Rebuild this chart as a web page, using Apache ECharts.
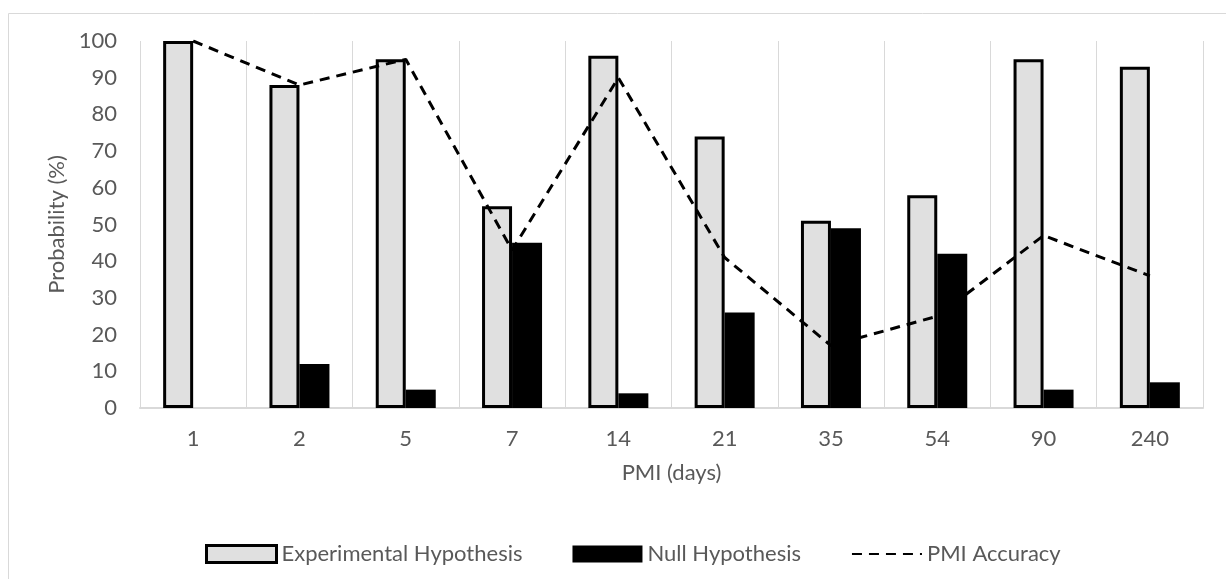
<!DOCTYPE html>
<html>
<head>
<meta charset="utf-8">
<script src="https://cdn.jsdelivr.net/npm/echarts@6/dist/echarts.min.js"></script>
<style>
  html, body { margin: 0; padding: 0; background: #fff; }
  #chart { width: 1226px; height: 579px; }
</style>
</head>
<body>
<div id="chart"></div>
<script>
// PMI categories (days)
const pmiDays = ['1', '2', '5', '7', '14', '21', '35', '54', '90', '240'];
// probabilities (%)
const experimental = [100, 88, 95, 55, 96, 74, 51, 58, 95, 93];
const nullHyp = [0, 12, 5, 45, 4, 26, 49, 42, 5, 7];
const pmiAccuracy = [100, 88, 95, 43, 90, 41, 17, 25, 47, 36];
const yTicks = { min: 0, max: 100, interval: 10 };

const textColor = '#595959';
const fontFamily = 'Lato, "Open Sans", sans-serif';
const fontSize = 22;

const chart = echarts.init(document.getElementById('chart'));
const option = {
    animation: false,
    textStyle: { fontFamily: fontFamily },
    graphic: [{
        type: 'rect',
        left: 6, top: 11,
        shape: { width: 1240, height: 600 },
        style: { fill: 'none', stroke: '#d9d9d9', lineWidth: 1 },
        silent: true
    }],
    grid: { left: 140, right: 23, top: 41, bottom: 171 },
    legend: {
        left: 200,
        top: 538,
        itemWidth: 70,
        itemHeight: 17,
        itemGap: 50,
        textStyle: { color: textColor, fontSize: fontSize, fontFamily: fontFamily },
        data: [
            { name: 'Experimental Hypothesis', icon: 'rect', itemStyle: { borderWidth: 3, borderColor: '#000' } },
            { name: 'Null Hypothesis', icon: 'rect' },
            { name: 'PMI Accuracy', itemStyle: { opacity: 0 } }
        ]
    },
    xAxis: {
        type: 'category',
        data: pmiDays,
        name: 'PMI (days)',
        nameLocation: 'middle',
        nameGap: 54,
        nameTextStyle: { color: textColor, fontSize: fontSize },
        axisLine: { lineStyle: { color: '#d9d9d9', width: 2 } },
        axisTick: { show: false },
        axisLabel: { color: textColor, fontSize: fontSize, margin: 20 },
        splitLine: { show: true, lineStyle: { color: '#d9d9d9', width: 1 } }
    },
    yAxis: {
        type: 'value',
        min: yTicks.min,
        max: yTicks.max,
        interval: yTicks.interval,
        name: 'Probability (%)',
        nameLocation: 'middle',
        nameGap: 70,
        nameTextStyle: { color: textColor, fontSize: fontSize },
        axisLine: { show: false },
        axisTick: { show: false },
        axisLabel: { color: textColor, fontSize: fontSize, margin: 23 },
        splitLine: { show: false }
    },
    series: [
        {
            name: 'Experimental Hypothesis',
            type: 'bar',
            data: experimental,
            barWidth: 30,
            barGap: '0%',
            itemStyle: { color: '#e0e0e0', borderColor: '#000', borderWidth: 3 }
        },
        {
            name: 'Null Hypothesis',
            type: 'bar',
            data: nullHyp,
            barWidth: 30,
            itemStyle: { color: '#000', borderWidth: 0 }
        },
        {
            name: 'PMI Accuracy',
            type: 'line',
            data: pmiAccuracy,
            symbol: 'none',
            z: 5,
            lineStyle: { color: '#000', width: 3, type: [10, 7] },
            itemStyle: { color: '#000' }
        }
    ]
};
chart.setOption(option);
</script>
</body>
</html>
